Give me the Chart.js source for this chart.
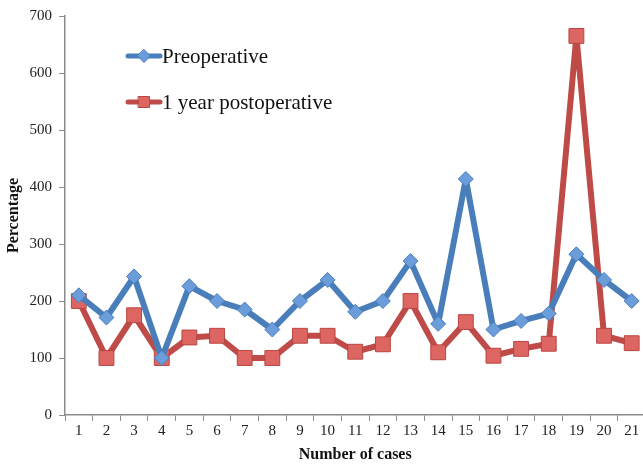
<!DOCTYPE html>
<html>
<head>
<meta charset="utf-8">
<script src="https://cdn.jsdelivr.net/npm/chart.js@4.4.1/dist/chart.umd.min.js"></script>
<style>
  html, body { margin: 0; padding: 0; background: #ffffff; overflow: hidden; }
  #wrap { position: relative; width: 657px; height: 464px; }
  #chart { display: block; }
</style>
</head>
<body>
<div id="wrap"><canvas id="chart" width="657" height="464"></canvas></div>
<script>
// Case numbers along the x axis
const cases = ['1','2','3','4','5','6','7','8','9','10','11','12','13','14','15','16','17','18','19','20','21'];

// Percentage per case, before surgery and one year after
const preoperative = [210, 171, 243, 100, 226, 200, 185, 150, 200, 237, 181, 200, 270, 160, 414, 150, 165, 178, 282, 237, 200];
const postoperative = [200, 100, 175, 100, 136, 139, 100, 100, 139, 139, 111, 124, 200, 110, 163, 104, 116, 125, 665, 139, 126];

const seriesNames = ['Preoperative', '1 year postoperative'];

const serif = 'Liberation Serif';

// Legend drawn inside the plot area, upper left
const innerLegend = {
  id: 'innerLegend',
  afterDraw(chart) {
    const ctx = chart.ctx;
    const area = chart.chartArea;
    const x0 = area.left + 63;
    const ys = [area.top + 40, area.top + 86];
    chart.data.datasets.forEach((ds, i) => {
      const y = ys[i];
      const cx = x0 + 16;
      ctx.save();
      ctx.strokeStyle = ds.borderColor;
      ctx.lineWidth = 5;
      ctx.lineCap = 'round';
      ctx.beginPath();
      ctx.moveTo(x0, y);
      ctx.lineTo(x0 + 32, y);
      ctx.stroke();
      ctx.fillStyle = ds.pointBackgroundColor;
      ctx.strokeStyle = ds.pointBorderColor;
      ctx.lineWidth = 1;
      ctx.beginPath();
      if (ds.pointStyle === 'rect') {
        const s = 5.5;
        ctx.rect(cx - s, y - s, 2 * s, 2 * s);
      } else {
        const r = 6.5;
        ctx.moveTo(cx, y - r);
        ctx.lineTo(cx + r, y);
        ctx.lineTo(cx, y + r);
        ctx.lineTo(cx - r, y);
        ctx.closePath();
      }
      ctx.fill();
      ctx.stroke();
      ctx.fillStyle = '#111111';
      ctx.font = '21px "' + serif + '"';
      ctx.textBaseline = 'middle';
      ctx.textAlign = 'left';
      ctx.fillText(ds.label, x0 + 34, y + 1);
      ctx.restore();
    });
  }
};

new Chart(document.getElementById('chart'), {
  type: 'line',
  data: {
    labels: cases,
    datasets: [
      {
        label: seriesNames[0],
        data: preoperative,
        borderColor: '#4a7ebb',
        borderWidth: 6,
        borderJoinStyle: 'round',
        pointStyle: 'rectRot',
        pointRadius: 7.5,
        pointHoverRadius: 7.5,
        pointBackgroundColor: '#6b9ddb',
        pointBorderColor: '#4a7ebb',
        pointBorderWidth: 1,
        tension: 0
      },
      {
        label: seriesNames[1],
        data: postoperative,
        borderColor: '#be4b48',
        borderWidth: 6,
        borderJoinStyle: 'round',
        pointStyle: 'rect',
        pointRadius: 10.5,
        pointHoverRadius: 10.5,
        pointBackgroundColor: '#de6662',
        pointBorderColor: '#b84643',
        pointBorderWidth: 1,
        tension: 0
      }
    ]
  },
  options: {
    responsive: false,
    animation: false,
    devicePixelRatio: 1,
    layout: { padding: { top: 7, right: 6, left: 4, bottom: 0 } },
    plugins: {
      legend: { display: false },
      tooltip: { enabled: false }
    },
    scales: {
      x: {
        offset: true,
        afterFit(scale) { scale.height = 49; },
        grid: {
          offset: true,
          drawOnChartArea: false,
          drawTicks: true,
          tickLength: 6,
          color: '#8c8c8c'
        },
        border: { color: '#8c8c8c', width: 1.5 },
        ticks: {
          color: '#222222',
          font: { family: serif, size: 15 },
          maxRotation: 0,
          autoSkip: false,
          padding: 1
        },
        title: {
          display: true,
          text: 'Number of cases',
          color: '#111111',
          font: { family: serif, size: 16, weight: 'bold' },
          padding: { top: 1, bottom: 0 }
        }
      },
      y: {
        min: 0,
        max: 700,
        afterFit(scale) { scale.width = 61; },
        grid: {
          drawOnChartArea: false,
          drawTicks: true,
          tickLength: 6,
          color: '#8c8c8c'
        },
        border: { color: '#8c8c8c', width: 1.5 },
        ticks: {
          stepSize: 100,
          color: '#222222',
          font: { family: serif, size: 15 },
          padding: 7
        },
        title: {
          display: true,
          text: 'Percentage',
          color: '#111111',
          font: { family: serif, size: 16, weight: 'bold' },
          padding: { top: 0, bottom: 3 }
        }
      }
    }
  },
  plugins: [innerLegend]
});
</script>
</body>
</html>
